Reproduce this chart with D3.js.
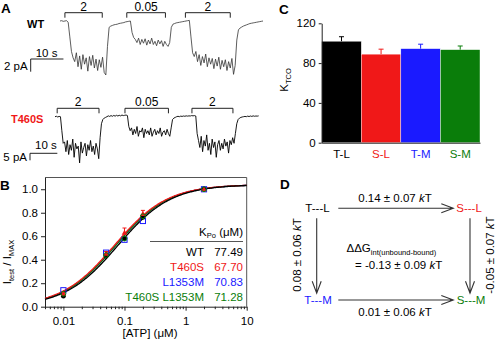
<!DOCTYPE html>
<html><head><meta charset="utf-8">
<script src="https://cdn.jsdelivr.net/npm/d3@7"></script>
<style>
body{margin:0;background:#fff}
svg{display:block;font-family:Arial,"Liberation Sans",sans-serif}
</style></head><body>
<svg id="fig" width="496" height="342"></svg>
<script>
// --- A: macroscopic currents, one sample every 0.5 s (pA) ---
var dt = 0.5;
var wtCurrent = [
  0, 0.05, -0.05, 0, 0.05, -0.2, -2.5, -4.8, -5.8, -6.4,
  -5.0, -7.2, -5.5, -7.6, -5.3, -6.8, -5.8, -7.9, -5.6, -7.0,
  -5.4, -7.4, -6.0, -7.8, -6.1, -7.3, -5.7, -8.1, -8.5, -4.0,
  -1.0, -0.8, -0.7, -0.6, -0.55, -0.5, -0.4, -0.35, -0.3, -0.25,
  -0.15, -0.1, -0.05, 0, -1.8, -2.6, -2.9, -3.4, -2.7, -3.7,
  -2.9, -3.5, -2.8, -3.8, -3.0, -3.6, -2.7, -3.7, -3.2, -3.9,
  -3.0, -3.6, -3.1, -4.0, -3.2, -3.7, -4.0, -3.4, -1.0, -0.5,
  -0.4, -0.3, -0.25, -0.2, -0.15, -0.1, -0.05, 0, 0.05, 0.1,
  -2.5, -5.0, -5.6, -4.8, -6.4, -5.3, -7.0, -5.6, -6.6, -5.2,
  -7.2, -5.8, -6.8, -5.9, -7.5, -6.0, -7.1, -5.7, -7.6, -6.2,
  -7.2, -6.1, -7.8, -6.4, -7.4, -5.9, -8.4, -7.0, -3.0, -1.4,
  -1.1, -0.95, -0.8, -0.7, -0.6, -0.5, -0.4, -0.35, -0.3, -0.25,
  -0.2, -0.15, -0.1, -0.05, 0
];
var t460sCurrent = [
  0, 0.3, -0.2, 0.2, 0, -10, -19, -18, -25, -17,
  -27, -20, -24, -16, -29, -19, -23, -21, -33, -18,
  -26, -22, -19, -28, -20, -24, -17, -25, -21, -27,
  -19, -23, -30, -15, -5, -2, -1, -0.5, 0, 0.6,
  0.2, 0.8, 0.3, 0.9, 0.4, 1.0, 0.5, 1.0, 0.6, 1.2,
  0.8, 1.0, 1.2, 0.8, -7, -10, -8, -13, -9, -12,
  -7, -14, -10, -11, -8, -15, -9, -12, -10, -13,
  -8, -14, -11, -9, -13, -10, -12, -8, -14, -11,
  -10, -13, -9, -12, -14, -8, -2, -1, -0.5, 0,
  0.3, 0, 0.4, 0.2, 0.5, 0.3, 0.6, 0.4, 0.6, 0.5,
  0.8, 0.6, 0.8, 0.5, -12, -17, -22, -14, -25, -17,
  -21, -13, -24, -19, -27, -16, -22, -18, -29, -20,
  -17, -24, -19, -23, -16, -21, -18, -26, -17, -20,
  -15, -19, -12, -5, -2, -1, -0.5, -0.2, 0, 0.2,
  0, 0.4, 0.1, 0.5, 0.2, 0.6, 0.3, 0.5, 0.4, 0.6
];
var pulseLabels = ["2", "0.05", "2"];          // [ATP] in µM
var wtPulseOn = [1.5, 20.4, 38.3], wtPulseOff = [12.9, 32.2, 52.0];
var t460sPulseOn = [0.8, 25.6, 50.1], t460sPulseOff = [16.1, 41.5, 65.1];

// --- B: dose-response, normalised to 2 µM ---
var atp = [0.01, 0.05, 0.1, 0.2, 2];
var wtNorm = [0.09, 0.43, 0.58, 0.76, 1.0];
var t460sNorm = [0.11, 0.45, 0.63, 0.79, 1.0];
var t460sErr = [0.01, 0.02, 0.04, 0.03, 0];
var l1353mNorm = [0.14, 0.46, 0.57, 0.73, 1.0];
var doubleNorm = [0.11, 0.44, 0.58, 0.77, 1.0];
var constructs = ["WT", "T460S", "L1353M", "T460S L1353M"];
var kpo = [77.49, 67.70, 70.83, 71.28];
var fitMax = 1.04;

// --- C: coupling coefficients ---
var pairs = ["T-L", "S-L", "T-M", "S-M"];
var kco = [102, 89, 94.5, 93.5];
var kcoErr = [4.5, 5, 4.5, 3.7];

// --- D: double-mutant cycle ---
var cycleNodes = ["T---L", "S---L", "T---M", "S---M"];
var cycleEdges = ["0.14 ± 0.07", "0.08 ± 0.06", "-0.05 ± 0.07", "0.01 ± 0.06"];
var cycleTotal = "= -0.13 ± 0.09";

var RED = "#f01818", BLUE = "#1a1aff", GREEN = "#0a7d0a";
var colors = ["#000", RED, BLUE, GREEN];

var svg = d3.select("#fig");
svg.append("rect").attr("width", 496).attr("height", 342).attr("fill", "#fff");

function panelLetter(s, x, y) {
  svg.append("text").attr("x", x).attr("y", y).attr("font-size", 13.5)
    .attr("font-weight", "bold").text(s);
}
function kT(sel, pre) {
  sel.append("tspan").text(pre + " ");
  sel.append("tspan").attr("font-style", "italic").text("k");
  sel.append("tspan").text("T");
}

// ================= A =================
panelLetter("A", 1, 13);

function drawRecording(cur, x, y, on, off, brY, color, width) {
  var g = svg.append("g");
  g.append("path").datum(cur)
    .attr("fill", "none").attr("stroke", color).attr("stroke-width", width)
    .attr("stroke-linejoin", "round")
    .attr("d", d3.line().x(function (d, i) { return x(i * dt); }).y(y));
  on.forEach(function (t0, i) {
    var x0 = x(t0), x1 = x(off[i]);
    g.append("path").attr("fill", "none").attr("stroke", "#222").attr("stroke-width", 1)
      .attr("d", "M" + x0 + "," + (brY + 5) + "V" + brY + "H" + x1 + "V" + (brY + 5));
    g.append("text").attr("x", (x0 + x1) / 2).attr("y", brY - 2)
      .attr("text-anchor", "middle").attr("font-size", 12).text(pulseLabels[i]);
  });
}
function scaleBar(x, y, x0, y0, sec, pa, tLab, iLab, tY, iY) {
  svg.append("path").attr("fill", "none").attr("stroke", "#222").attr("stroke-width", 1)
    .attr("d", "M" + (x0 + x(sec) - x(0)) + "," + y0 + "H" + x0 + "V" + (y0 + y(-pa) - y(0)));
  svg.append("text").attr("x", x0 + 5).attr("y", tY).attr("font-size", 11.5).text(tLab);
  svg.append("text").attr("x", x0 - 3).attr("y", iY).attr("text-anchor", "end")
    .attr("font-size", 11.5).text(iLab);
}

var xWT = d3.scaleLinear().domain([0, 62]).range([60, 263]);
var yWT = d3.scaleLinear().domain([0, -10]).range([21, 84.5]);
svg.append("text").attr("x", 27).attr("y", 28).attr("font-size", 11)
  .attr("font-weight", "bold").text("WT");
drawRecording(wtCurrent, xWT, yWT, wtPulseOn, wtPulseOff, 12.7, "#333", 0.8);
scaleBar(xWT, yWT, 30.7, 59, 10, 2, "10 s", "2 pA", 56.5, 69.5);

var xT = d3.scaleLinear().domain([0, 75]).range([55, 260]);
var yT = d3.scaleLinear().domain([0, -20]).range([116.7, 144.7]);
svg.append("text").attr("x", 11).attr("y", 122.5).attr("font-size", 11)
  .attr("font-weight", "bold").attr("fill", RED).text("T460S");
drawRecording(t460sCurrent, xT, yT, t460sPulseOn, t460sPulseOff, 108.3, "#000", 0.9);
scaleBar(xT, yT, 30, 153.3, 10, 5, "10 s", "5 pA", 149, 161);

// ================= B =================
panelLetter("B", 0, 190);
var bx = d3.scaleLog().domain([0.005, 10]).range([45, 246.7]);
var by = d3.scaleLinear().domain([0, 1.1]).range([306.7, 177.5]);
var gB = svg.append("g");

gB.append("path").attr("fill", "none").attr("stroke", "#555").attr("stroke-width", 1)
  .attr("d", "M" + bx(0.005) + "," + by(1.1) + "H" + bx(10) + "V" + by(0));

var minor = [];
[0.001, 0.01, 0.1, 1].forEach(function (dec) {
  for (var m = 2; m <= 9; m++) if (dec * m >= 0.005 && dec * m <= 10) minor.push(dec * m);
});
gB.append("g").attr("transform", "translate(0," + by(0) + ")")
  .call(d3.axisBottom(bx).tickValues(minor).tickSize(2.5).tickFormat(""))
  .call(function (a) { a.select(".domain").remove(); });
gB.append("g").attr("transform", "translate(0," + by(0) + ")")
  .call(d3.axisBottom(bx).tickValues([0.01, 0.1, 1, 10]).tickSize(4)
    .tickFormat(function (d) { return String(d); }).tickSizeOuter(0))
  .call(function (a) { a.selectAll("text").attr("font-size", 11.5).attr("dy", "0.95em"); });
gB.append("g").attr("transform", "translate(" + bx(0.005) + ",0)")
  .call(d3.axisLeft(by).tickValues([0, 0.2, 0.4, 0.6, 0.8, 1.0]).tickSize(4)
    .tickFormat(d3.format(".1f")).tickSizeOuter(0))
  .call(function (a) { a.selectAll("text").attr("font-size", 11.5); });
gB.selectAll(".domain, .tick line").attr("stroke", "#222");

gB.append("text").attr("x", 150).attr("y", 337).attr("text-anchor", "middle")
  .attr("font-size", 11.5).text("[ATP] (μM)");
var yl = gB.append("text").attr("transform", "translate(11,262) rotate(-90)")
  .attr("text-anchor", "middle").attr("font-size", 11.5);
yl.append("tspan").text("I");
yl.append("tspan").attr("font-size", 7.5).attr("dy", 2.5).text("test");
yl.append("tspan").attr("dy", -2.5).text(" / I");
yl.append("tspan").attr("font-size", 7.5).attr("dy", 2.5).text("MAX");

// Michaelis-Menten fits from the K_Po values in the table
var xs = d3.range(0, 241).map(function (i) { return 0.005 * Math.pow(2000, i / 240); });
[2, 3, 1, 0].forEach(function (j) {
  var k = kpo[j] / 1000;
  gB.append("path").datum(xs).attr("fill", "none").attr("stroke", colors[j])
    .attr("stroke-width", 1.3)
    .attr("d", d3.line().x(bx).y(function (x) { return by(fitMax * x / (x + k)); }));
});

// markers
atp.forEach(function (a, i) {
  gB.append("rect").attr("x", bx(a) - 2.6).attr("y", by(l1353mNorm[i]) - 2.6)
    .attr("width", 5.2).attr("height", 5.2).attr("fill", "none")
    .attr("stroke", BLUE).attr("stroke-width", 1);
  gB.append("circle").attr("cx", bx(a)).attr("cy", by(wtNorm[i])).attr("r", 2.4).attr("fill", "#000");
  if (t460sErr[i] > 0) {
    gB.append("path").attr("stroke", RED).attr("stroke-width", 1)
      .attr("d", "M" + bx(a) + "," + by(t460sNorm[i]) + "V" + by(t460sNorm[i] + t460sErr[i]) +
        "M" + (bx(a) - 2) + "," + by(t460sNorm[i] + t460sErr[i]) + "h4");
  }
  var tx = bx(a), ty = by(t460sNorm[i]);
  gB.append("path").attr("fill", RED)
    .attr("d", "M" + tx + "," + (ty - 3) + "L" + (tx + 2.8) + "," + (ty + 2) + "L" + (tx - 2.8) + "," + (ty + 2) + "Z");
  gB.append("circle").attr("cx", bx(a)).attr("cy", by(doubleNorm[i])).attr("r", 2.4)
    .attr("fill", "none").attr("stroke", GREEN).attr("stroke-width", 1);
});

// K_Po table
var hd = gB.append("text").attr("x", 243).attr("y", 235.5).attr("text-anchor", "end").attr("font-size", 11.5);
hd.append("tspan").text("K");
hd.append("tspan").attr("font-size", 7.5).attr("dy", 2.5).text("Po");
hd.append("tspan").attr("dy", -2.5).text(" (μM)");
gB.append("line").attr("x1", 150).attr("x2", 243).attr("y1", 241.5).attr("y2", 241.5)
  .attr("stroke", "#555").attr("stroke-width", 1);
constructs.forEach(function (c, i) {
  var yy = 255.8 + i * 15.2;
  gB.append("text").attr("x", 204).attr("y", yy).attr("text-anchor", "end")
    .attr("font-size", 11.5).attr("fill", colors[i]).text(c);
  gB.append("text").attr("x", 243).attr("y", yy).attr("text-anchor", "end")
    .attr("font-size", 11.5).attr("fill", colors[i]).text(kpo[i].toFixed(2));
});

// ================= C =================
panelLetter("C", 279, 14);
var cx = d3.scaleBand().domain(pairs).range([321.7, 480]).padding(0);
var cy = d3.scaleLinear().domain([0, 120]).range([142.7, 23.3]);
var gC = svg.append("g");
gC.selectAll(".bar").data(pairs).join("rect")
  .attr("x", function (d) { return cx(d); }).attr("width", cx.bandwidth())
  .attr("y", function (d, i) { return cy(kco[i]); })
  .attr("height", function (d, i) { return cy(0) - cy(kco[i]); })
  .attr("fill", function (d, i) { return colors[i]; })
  .attr("stroke", "#fff").attr("stroke-width", 0.4);
pairs.forEach(function (p, i) {
  var m = cx(p) + cx.bandwidth() / 2, top = cy(kco[i] + kcoErr[i]);
  gC.append("path").attr("stroke", colors[i]).attr("stroke-width", 1).attr("fill", "none")
    .attr("d", "M" + m + "," + cy(kco[i]) + "V" + top + "M" + (m - 2.5) + "," + top + "h5");
});
gC.append("g").attr("transform", "translate(321.7,0)")
  .call(d3.axisLeft(cy).tickValues([0, 40, 80, 120]).tickSize(3).tickSizeOuter(0))
  .call(function (a) { a.selectAll("text").attr("font-size", 11.5); });
gC.append("g").attr("transform", "translate(0," + cy(0) + ")")
  .call(d3.axisBottom(cx).tickSize(0).tickSizeOuter(0))
  .call(function (a) {
    a.selectAll("text").attr("font-size", 11.5).attr("dy", "1.05em")
      .attr("fill", function (d, i) { return colors[i]; });
  });
gC.selectAll(".domain, .tick line").attr("stroke", "#222");
var kl = gC.append("text").attr("transform", "translate(288,80) rotate(-90)")
  .attr("text-anchor", "middle").attr("font-size", 11.5);
kl.append("tspan").text("K");
kl.append("tspan").attr("font-size", 7.5).attr("dy", 2.5).text("TCO");

// ================= D =================
panelLetter("D", 280, 189);
var gD = svg.append("g").attr("font-size", 11.5);
function arrow(x1, y1, x2, y2) {
  var a = Math.atan2(y2 - y1, x2 - x1), L = 12, w = 4.5;
  var bx0 = x2 - L * Math.cos(a), by0 = y2 - L * Math.sin(a);
  var nx = -Math.sin(a) * w, ny = Math.cos(a) * w;
  gD.append("path").attr("fill", "none").attr("stroke", "#333").attr("stroke-width", 1.1)
    .attr("d", "M" + x1 + "," + y1 + "L" + x2 + "," + y2 +
      "M" + (bx0 + nx) + "," + (by0 + ny) + "L" + x2 + "," + y2 + "L" + (bx0 - nx) + "," + (by0 - ny));
}
var nodePos = [[317.5, 212.3], [469, 212.3], [318, 304], [471, 304]];
cycleNodes.forEach(function (n, i) {
  gD.append("text").attr("x", nodePos[i][0]).attr("y", nodePos[i][1])
    .attr("text-anchor", "middle").attr("fill", colors[i]).text(n);
});
arrow(338.3, 208.3, 453.3, 208.3);
arrow(338.3, 300, 453.3, 300);
arrow(316.7, 218.3, 316.7, 293.3);
arrow(470, 218.3, 470, 293.3);

kT(gD.append("text").attr("x", 395).attr("y", 202.3).attr("text-anchor", "middle"), cycleEdges[0]);
kT(gD.append("text").attr("x", 395).attr("y", 315.7).attr("text-anchor", "middle"), cycleEdges[3]);
kT(gD.append("text").attr("transform", "translate(300.5,255) rotate(-90)").attr("text-anchor", "middle"), cycleEdges[1]);
kT(gD.append("text").attr("transform", "translate(494,255) rotate(-90)").attr("text-anchor", "middle"), cycleEdges[2]);

var dd = gD.append("text").attr("x", 346.5).attr("y", 252.3);
dd.append("tspan").text("ΔΔG");
dd.append("tspan").attr("font-size", 7.5).attr("dy", 2.5).text("int(unbound-bound)");
kT(gD.append("text").attr("x", 355).attr("y", 269), cycleTotal);
</script></body></html>
